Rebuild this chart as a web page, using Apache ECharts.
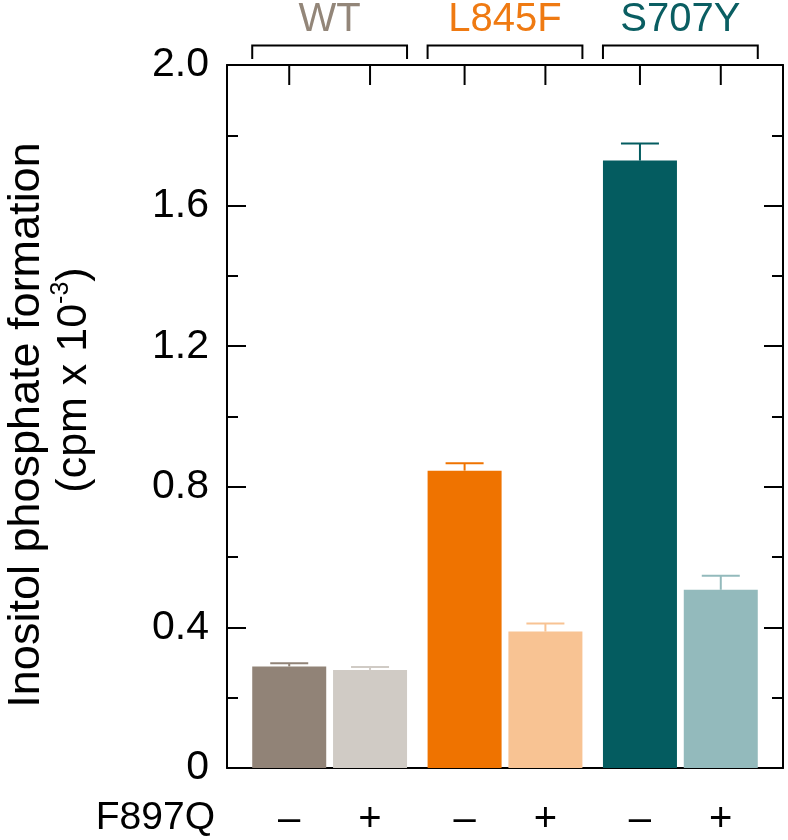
<!DOCTYPE html>
<html><head><meta charset="utf-8">
<script src="https://cdn.jsdelivr.net/npm/echarts@6/dist/echarts.min.js"></script>
<style>html,body{margin:0;padding:0;background:#fff}#c{width:788px;height:840px}</style>
</head><body><div id="c"></div>
<script>
// ---- data ----
const groups = ['WT', 'L845F', 'S707Y'];
const treatments = ['–', '+'];
const means = [0.289, 0.279, 0.846, 0.388, 1.728, 0.507];
const errors = [0.009, 0.008, 0.021, 0.023, 0.049, 0.040];
const yTickLabels = ['0', '0.4', '0.8', '1.2', '1.6', '2.0'];
const treatmentName = 'F897Q';
const yTitleLine1 = 'Inositol phosphate formation';
const yTitleLine2 = '(cpm x 10{sup|-3})';

// ---- styles ----
const groupColors = ['#938679', '#ef7a12', '#0a5e62'];
const barColors = ['#918377', '#d0cbc5', '#ef7300', '#f8c393', '#045c60', '#93babc'];
const FONT = '"Liberation Sans", Arial, Helvetica, sans-serif';
const GROUP_GAP = 0.17;
const PAD = 0.77;
const BAR_W = 74;
const pos = (g, t) => g * (2 + GROUP_GAP) + t;

const barData = [], errData = [], tickData = [], bracketData = [];
groups.forEach((gname, g) => {
  treatments.forEach((tl, t) => {
    const i = g * 2 + t;
    barData.push({ value: [pos(g, t), means[i]], itemStyle: { color: barColors[i] } });
    errData.push([pos(g, t), means[i], errors[i], i]);
    tickData.push([pos(g, t), 0, t]);
  });
  bracketData.push([pos(g, 0), pos(g, 1), g]);
});

const chart = echarts.init(document.getElementById('c'), null, { renderer: 'canvas' });
const axisLine = { show: true, onZero: false, lineStyle: { color: '#000', width: 2 } };
const xMin = -PAD, xMax = pos(groups.length - 1, 1) + PAD;
const yAxisBase = {
  type: 'value', min: 0, max: 2, interval: 0.4,
  axisLine: axisLine,
  axisTick: { show: true, inside: true, length: 19, lineStyle: { color: '#000', width: 2 } },
  minorTick: { show: true, splitNumber: 2, length: 11, lineStyle: { color: '#000', width: 2 } },
  splitLine: { show: false }, minorSplitLine: { show: false }
};
chart.setOption({
  animation: false,
  backgroundColor: '#fff',
  grid: { left: 227, right: 5, top: 65, bottom: 72 },
  xAxis: [
    { type: 'value', min: xMin, max: xMax, position: 'bottom', axisLine: axisLine,
      axisTick: { show: false }, axisLabel: { show: false }, splitLine: { show: false } },
    { type: 'value', min: xMin, max: xMax, position: 'top', axisLine: axisLine,
      axisTick: { show: false }, axisLabel: { show: false }, splitLine: { show: false } }
  ],
  yAxis: [
    Object.assign({}, yAxisBase, { position: 'left',
      axisLabel: { show: true, fontSize: 41, color: '#000', fontFamily: FONT, margin: 18,
        formatter: (v) => yTickLabels[Math.round(v / 0.4)] } }),
    Object.assign({}, yAxisBase, { position: 'right', axisLabel: { show: false } })
  ],
  graphic: [
    { type: 'text', x: 27, y: 425, rotation: Math.PI / 2,
      style: { text: yTitleLine1, fontSize: 45, fontFamily: FONT, fill: '#000', align: 'center', verticalAlign: 'middle' } },
    { type: 'text', x: 74, y: 380, rotation: Math.PI / 2,
      style: { text: '{n|' + yTitleLine2.replace('{sup|-3}', '}{sup|-3}{n|') + '}',
        fontFamily: FONT, fill: '#000', align: 'center', verticalAlign: 'middle',
        rich: {
          n: { fontSize: 43, fontFamily: FONT, lineHeight: 43, verticalAlign: 'bottom' },
          sup: { fontSize: 25, fontFamily: FONT, lineHeight: 25, verticalAlign: 'bottom', padding: [0, 0, 22, 0] }
        } } },
    { type: 'text', x: 215, y: 818,
      style: { text: treatmentName, fontSize: 39, fontFamily: FONT, fill: '#000', align: 'right', verticalAlign: 'middle' } }
  ],
  series: [
    { type: 'bar', xAxisIndex: 0, yAxisIndex: 0, barWidth: BAR_W, data: barData, z: 2 },
    { type: 'custom', xAxisIndex: 0, yAxisIndex: 0, z: 3, data: errData,
      renderItem: function (params, api) {
        const x = api.value(0), m = api.value(1), e = api.value(2), i = api.value(3);
        const p0 = api.coord([x, m]), p1 = api.coord([x, m + e]);
        const col = barColors[i];
        return { type: 'group', children: [
          { type: 'line', shape: { x1: p0[0], y1: p0[1], x2: p1[0], y2: p1[1] }, style: { stroke: col, lineWidth: 2 } },
          { type: 'line', shape: { x1: p1[0] - 19, y1: p1[1], x2: p1[0] + 19, y2: p1[1] }, style: { stroke: col, lineWidth: 2 } }
        ] };
      } },
    { type: 'custom', xAxisIndex: 0, yAxisIndex: 0, z: 4, data: tickData,
      renderItem: function (params, api) {
        const c = api.coord([api.value(0), 0]);
        const top = params.coordSys.y;
        return { type: 'group', children: [
          { type: 'line', shape: { x1: c[0], y1: top, x2: c[0], y2: top + 20 }, style: { stroke: '#000', lineWidth: 2 } },
          { type: 'text', x: c[0], y: c[1] + 52,
            style: { text: treatments[api.value(2)], fontSize: 40, fontFamily: FONT, fill: '#000', align: 'center', verticalAlign: 'middle' } }
        ] };
      } },
    { type: 'custom', xAxisIndex: 0, yAxisIndex: 0, z: 4, data: bracketData,
      renderItem: function (params, api) {
        const a = api.coord([api.value(0), 0])[0] - BAR_W / 2;
        const b = api.coord([api.value(1), 0])[0] + BAR_W / 2;
        const g = api.value(2);
        const top = params.coordSys.y;
        return { type: 'group', children: [
          { type: 'polyline', shape: { points: [[a, top - 6], [a, top - 19.5], [b, top - 19.5], [b, top - 6]] },
            style: { stroke: '#000', lineWidth: 2, fill: null } },
          { type: 'text', x: (a + b) / 2, y: top - 45,
            style: { text: groups[g], fontSize: 40, fontFamily: FONT, fill: groupColors[g], align: 'center', verticalAlign: 'middle' } }
        ] };
      } }
  ]
});
</script></body></html>
